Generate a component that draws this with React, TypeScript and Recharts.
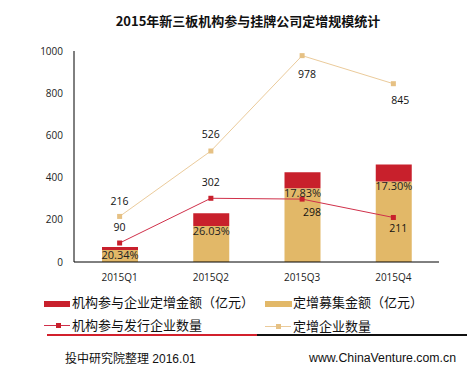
import React from 'react';
import { ComposedChart, Bar, Line, XAxis, YAxis, LabelList } from 'recharts';

const categories = ['2015Q1', '2015Q2', '2015Q3', '2015Q4'];
const raisedAmount = [57, 171, 349, 382];
const institutionAmount = [14, 60, 76, 80];
const pctLabels = ['20.34%', '26.03%', '17.83%', '17.30%'];
const institutionCompanies = [90, 302, 298, 211];
const totalCompanies = [216, 526, 978, 845];
const yTicks = [0, 200, 400, 600, 800, 1000];

const data = categories.map((c, i) => ({
  name: c,
  raised: raisedAmount[i],
  inst: institutionAmount[i],
  pct: pctLabels[i],
  instCount: institutionCompanies[i],
  totalCount: totalCompanies[i],
}));

const RED = '#C8202C';
const GOLD = '#E2B868';
const GOLD_LINE = '#EBCB9B';
const RED_LINE = '#D0304A';
const NUM_FONT = '"Open Sans", "Noto Sans", sans-serif';
const CJK_FONT = '"Noto Sans CJK SC", sans-serif';

const goldOffsets = [[0, -15], [0, -17], [5, 18], [7, 16]];
const redOffsets = [[0, -16], [0, -16], [10, 13], [5, 11]];

const makeLineLabel = (offsets: number[][]) => (props: any) => {
  const { x, y, index, value } = props;
  const [dx, dy] = offsets[index] || [0, 0];
  return (
    <text x={x + dx} y={y + dy} textAnchor="middle" dominantBaseline="central"
      fontFamily={NUM_FONT} fontSize={10.5} fill="#111">{value}</text>
  );
};

const PctLabel = (props: any) => {
  const { x, y, width, index } = props;
  return (
    <text x={x + width / 2} y={y + 4.5} textAnchor="middle" dominantBaseline="central"
      fontFamily={NUM_FONT} fontSize={11} fill="#222">{pctLabels[index]}</text>
  );
};

const SquareDot = (color: string) => (props: any) => {
  const { cx, cy, index } = props;
  return <rect key={index} x={cx - 2.5} y={cy - 2.5} width={5} height={5} fill={color} />;
};

const legendText: React.CSSProperties = {
  position: 'absolute', fontFamily: CJK_FONT, fontSize: 13, color: '#111', lineHeight: '16px', whiteSpace: 'nowrap',
};

export default function App() {
  return (
    <div style={{ position: 'absolute', left: 0, top: 0, width: 476, height: 376, background: '#fff', overflow: 'hidden' }}>
      <div style={{ position: 'absolute', left: 0, top: 12, width: 496, textAlign: 'center', fontFamily: CJK_FONT, fontWeight: 'bold', fontSize: 13, color: '#111', lineHeight: '18px' }}>
        2015年新三板机构参与挂牌公司定增规模统计
      </div>
      <ComposedChart width={476} height={376} data={data}
        margin={{ top: 51, right: 37, bottom: 84, left: 14 }}>
        <XAxis dataKey="name" height={30} axisLine={{ stroke: '#000', strokeWidth: 1 }} tickLine={false}
          tickSize={0} tickMargin={12}
          tick={{ fontFamily: NUM_FONT, fontSize: 10, fill: '#222' }} />
        <YAxis width={60} domain={[0, 1000]} ticks={yTicks} axisLine={{ stroke: '#000', strokeWidth: 1 }}
          tickLine={false} tickSize={0} tickMargin={11}
          tick={{ fontFamily: NUM_FONT, fontSize: 10, fill: '#222' }} />
        <Bar dataKey="raised" stackId="a" fill={GOLD} barSize={36} isAnimationActive={false}>
          <LabelList dataKey="pct" content={PctLabel} />
        </Bar>
        <Bar dataKey="inst" stackId="a" fill={RED} barSize={36} isAnimationActive={false} />
        <Line dataKey="totalCount" stroke={GOLD_LINE} strokeWidth={1} dot={SquareDot('#E6C184')}
          activeDot={false} isAnimationActive={false}>
          <LabelList dataKey="totalCount" content={makeLineLabel(goldOffsets)} />
        </Line>
        <Line dataKey="instCount" stroke={RED_LINE} strokeWidth={1} dot={SquareDot(RED)}
          activeDot={false} isAnimationActive={false}>
          <LabelList dataKey="instCount" content={makeLineLabel(redOffsets)} />
        </Line>
      </ComposedChart>

      {/* Legend */}
      <div style={{ position: 'absolute', left: 44, top: 301, width: 26, height: 6, background: RED }} />
      <div style={{ ...legendText, left: 72, top: 294 }}>机构参与企业定增金额（亿元）</div>
      <div style={{ position: 'absolute', left: 265, top: 301, width: 27, height: 6, background: GOLD }} />
      <div style={{ ...legendText, left: 293, top: 294 }}>定增募集金额（亿元）</div>

      <div style={{ position: 'absolute', left: 44, top: 325, width: 26, height: 1, background: RED_LINE }} />
      <div style={{ position: 'absolute', left: 55.5, top: 323, width: 5, height: 5, background: RED }} />
      <div style={{ ...legendText, left: 72, top: 317 }}>机构参与发行企业数量</div>
      <div style={{ position: 'absolute', left: 265, top: 326, width: 26, height: 1, background: GOLD_LINE }} />
      <div style={{ position: 'absolute', left: 275.5, top: 324, width: 5, height: 5, background: '#E6C184' }} />
      <div style={{ ...legendText, left: 293, top: 318 }}>定增企业数量</div>

      {/* Separator */}
      <div style={{ position: 'absolute', left: 47, top: 334, width: 210, height: 2, background: '#D2202C' }} />
      <div style={{ position: 'absolute', left: 257, top: 334, width: 210, height: 2, background: '#111' }} />

      {/* Footer */}
      <div style={{ position: 'absolute', left: 65, top: 350, fontFamily: CJK_FONT, fontSize: 12, color: '#111', lineHeight: '16px', whiteSpace: 'nowrap' }}>
        投中研究院整理<span style={{ fontFamily: '"Liberation Sans", Arial, sans-serif' }}> 2016.01</span>
      </div>
      <div style={{ position: 'absolute', right: 20, top: 350, fontFamily: '"Liberation Sans", Arial, sans-serif', fontSize: 12.3, color: '#111', lineHeight: '16px', whiteSpace: 'nowrap' }}>
        www.ChinaVenture.com.cn
      </div>
    </div>
  );
}
